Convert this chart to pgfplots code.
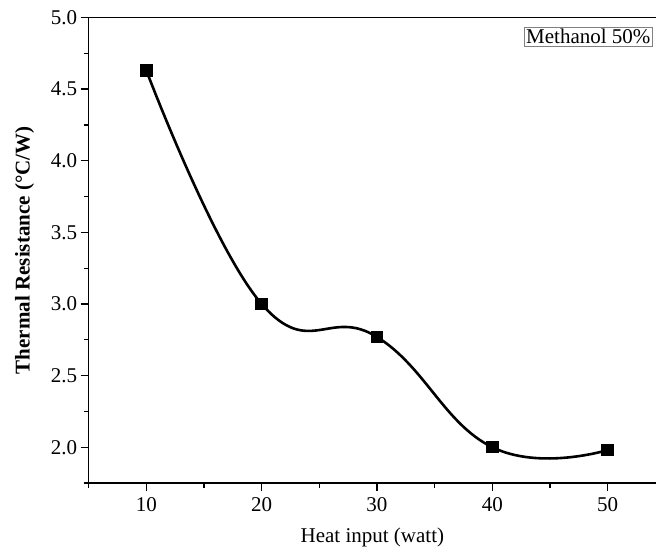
\documentclass[border=0pt]{standalone}
\usepackage{fontspec}
\setmainfont{Liberation Serif}
\usepackage{pgfplots}
\pgfplotsset{compat=1.18}
\begin{document}
\begin{tikzpicture}
\begin{axis}[
  at={(0,0)}, anchor=south west,
  scale only axis,
  width=567.3pt, height=465.5pt,
  xmin=5, xmax=54.2,
  ymin=1.75, ymax=5.0,
  axis x line=box, axis y line=left,
  axis line style={line width=1.5pt, -},
  xtick={10,20,30,40,50},
  minor xtick={5,15,25,35,45},
  ytick={2.0,2.5,3.0,3.5,4.0,4.5,5.0},
  minor ytick={1.75,2.25,2.75,3.25,3.75,4.25,4.75},
  xtick pos=bottom, ytick pos=left,
  tick align=outside,
  major tick length=8pt, minor tick length=5pt,
  every tick/.style={line width=1.3pt, black},
  yticklabel style={/pgf/number format/.cd, fixed, fixed zerofill, precision=1},
  /pgf/number format/assume math mode=true,
  tick label style={font=\fontsize{21}{25}\selectfont},
  xticklabel style={yshift=-3pt},
  xlabel={Heat input (watt)},
  ylabel={\bfseries Thermal Resistance (\textdegree C/W)},
  label style={font=\fontsize{21}{25}\selectfont},
  xlabel style={at={(axis description cs:0.5,-0.118)}, anchor=center},
  ylabel style={at={(axis description cs:-0.113,0.5)}, anchor=center, rotate=0},
  clip=false,
]
\addplot[black, line width=2.6pt, smooth, tension=0.75, mark=square*, mark size=5pt, mark options={solid}]
coordinates {(10,4.63) (20,3.0) (30,2.77) (40,2.0) (50,1.98)};
\end{axis}
\node[draw=gray, line width=0.6pt, anchor=north east, inner sep=2pt, font=\fontsize{21}{25}\selectfont] at (564pt,456pt) {Methanol 50\%};
\pgfresetboundingbox
\useasboundingbox (-88.7pt,-72pt) rectangle (567.3pt,483pt);
\end{tikzpicture}
\end{document}
